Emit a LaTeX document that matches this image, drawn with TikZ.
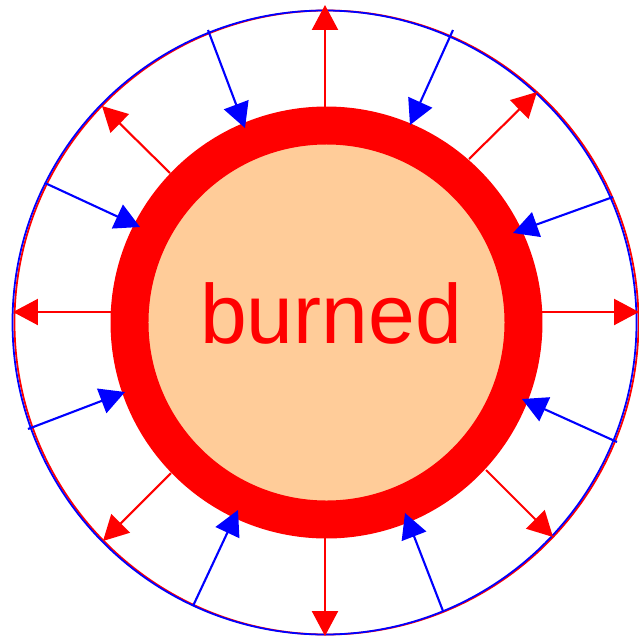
\documentclass[tikz,border=0pt]{standalone}
\usepackage{fontspec}
\setmainfont{Liberation Sans}
\usetikzlibrary{arrows.meta}
\definecolor{burnred}{RGB}{255, 0, 0}
\definecolor{flowblue}{RGB}{0, 0, 255}
\definecolor{burnorange}{RGB}{255, 204, 153}

\begin{document}
\begin{tikzpicture}[
    x=0.01cm, y=-0.01cm,
    rim/.style={line width=0.5pt},
    outarrow/.style={draw=burnred, line width=0.6pt, -{Triangle[length=7.1pt, width=7.4pt]}},
    inarrow/.style={draw=flowblue, line width=0.6pt, -{Triangle[length=7.1pt, width=7.4pt]}}
]
\useasboundingbox (0,0) rectangle (639,639);

% Outer boundary
\draw[rim, burnred] (326.5,322.5) circle[radius=312];
\draw[rim, flowblue] (324.5,322.5) circle[radius=312];

% Burned core and flame ring
\fill[burnorange] (326.5,322.5) circle[radius=179];
\draw[burnred, line width=10.8pt] (326.5,322.5) circle[radius=197];

% Outgoing (red)
\draw[outarrow] (325,107) -- (325,5);
\draw[outarrow] (325,538) -- (325,636);
\draw[outarrow] (111,312) -- (13,312);
\draw[outarrow] (542,312) -- (639,312);
\draw[outarrow] (170,173) -- (102,106);
\draw[outarrow] (469,159) -- (537,92);
\draw[outarrow] (171,473) -- (103,541);
\draw[outarrow] (486,470) -- (553,537);

% Incoming (blue)
\draw[inarrow] (208,30) -- (245,128);
\draw[inarrow] (453,30) -- (410,125);
\draw[inarrow] (45,183) -- (140,227);
\draw[inarrow] (613,197) -- (513,233);
\draw[inarrow] (28,429) -- (125,392);
\draw[inarrow] (617,442) -- (522,399);
\draw[inarrow] (193,606) -- (238,510);
\draw[inarrow] (443,611) -- (405,513);

% Label
\node[text=burnred, font=\fontsize{23.9pt}{28pt}\selectfont, anchor=base, inner sep=0pt] (burned) at (331,343) {burned};

\end{tikzpicture}
\end{document}
